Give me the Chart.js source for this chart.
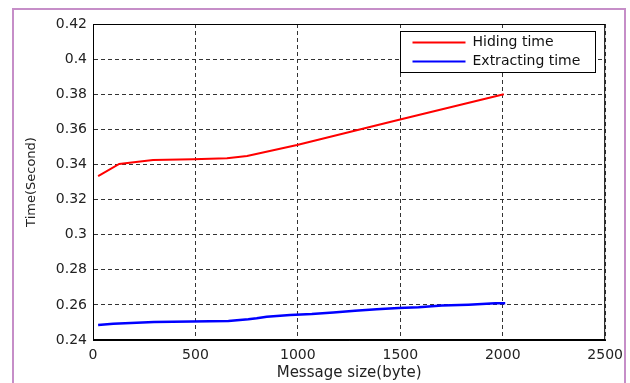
<!DOCTYPE html>
<html>
<head>
<meta charset="utf-8">
<script src="https://cdn.jsdelivr.net/npm/chart.js@4"></script>
<style>
  html, body { margin: 0; padding: 0; background: #fff; }
  #wrap { width: 630px; height: 383px; position: relative; }
</style>
</head>
<body>
<div id="wrap"><canvas id="grafico"></canvas></div>
<script>
// values
const hidingSize = [25, 128, 220, 293, 488, 654, 752, 996, 1489, 2005];
const hidingTime = [0.3334, 0.3403, 0.3416, 0.3425, 0.3429, 0.3435, 0.3448, 0.3511, 0.3653, 0.3800];

const extractSize = [25, 99, 298, 661, 758, 799, 848, 962, 1068, 1173, 1279, 1385, 1491, 1589, 1703, 1833, 1963, 2012];
const extractTime = [0.2486, 0.2493, 0.2503, 0.2508, 0.2518, 0.2524, 0.2533, 0.2543, 0.2548, 0.2556, 0.2566, 0.2575, 0.2582, 0.2586, 0.2596, 0.2601, 0.2609, 0.2609];

const seriesNames = ['Hiding time', 'Extracting time'];
const xTicks = [0, 500, 1000, 1500, 2000, 2500];
const yTicks = [0.24, 0.26, 0.28, 0.3, 0.32, 0.34, 0.36, 0.38, 0.4, 0.42];

const toPoints = (xs, ys) => xs.map((x, i) => ({ x: x, y: ys[i] }));

const fuente = 'DejaVu Sans';

// purple frame, plot box and the legend box
const marco = {
    id: 'marco',
    beforeDraw(chart) {
        const ctx = chart.ctx;
        ctx.save();
        ctx.fillStyle = '#fff';
        ctx.fillRect(0, 0, chart.width, chart.height);
        ctx.strokeStyle = '#c68ec8';
        ctx.lineWidth = 2;
        ctx.strokeRect(13, 9, 612, 400);
        ctx.restore();
    },
    afterDatasetsDraw(chart) {
        const ctx = chart.ctx;
        const a = chart.chartArea;
        ctx.save();
        ctx.strokeStyle = '#000';
        ctx.lineWidth = 1;
        ctx.strokeRect(a.left + 0.5, a.top + 0.5, a.right - a.left - 1, a.bottom - a.top - 1);

        const w = 195, h = 41;
        const bx = Math.round(a.right - 10 - w) + 0.5;
        const by = Math.round(a.top + 7) + 0.5;
        ctx.fillStyle = '#fff';
        ctx.fillRect(bx, by, w, h);
        ctx.strokeRect(bx, by, w, h);
        ctx.font = '14px "' + fuente + '"';
        ctx.textBaseline = 'middle';
        chart.data.datasets.forEach((ds, i) => {
            const yy = by + 11 + i * 19;
            ctx.strokeStyle = ds.borderColor;
            ctx.lineWidth = 2;
            ctx.beginPath();
            ctx.moveTo(bx + 12, yy);
            ctx.lineTo(bx + 65, yy);
            ctx.stroke();
            ctx.fillStyle = '#111';
            ctx.fillText(ds.label, bx + 72, yy);
        });
        ctx.restore();
    }
};

new Chart(document.getElementById('grafico'), {
    type: 'line',
    data: {
        datasets: [
            {
                label: seriesNames[0],
                data: toPoints(hidingSize, hidingTime),
                borderColor: '#ff0000',
                borderWidth: 2,
                pointRadius: 0,
                tension: 0
            },
            {
                label: seriesNames[1],
                data: toPoints(extractSize, extractTime),
                borderColor: '#0000ff',
                borderWidth: 2.5,
                pointRadius: 0,
                tension: 0
            }
        ]
    },
    options: {
        responsive: true,
        maintainAspectRatio: false,
        animation: false,
        layout: { padding: { top: 24, right: 23, left: 0, bottom: 0 } },
        plugins: {
            legend: { display: false },
            tooltip: { enabled: false }
        },
        scales: {
            x: {
                type: 'linear',
                min: xTicks[0],
                max: xTicks[xTicks.length - 1],
                afterBuildTicks: s => { s.ticks = xTicks.map(v => ({ value: v })); },
                afterFit: s => { s.height = 43; },
                ticks: {
                    color: '#222',
                    font: { family: fuente, size: 14 },
                    padding: 7,
                    maxRotation: 0,
                    callback: v => String(v)
                },
                grid: { color: '#333', lineWidth: 1, drawTicks: false },
                border: { display: true, color: '#000', width: 1, dash: [4, 3] },
                title: {
                    display: true,
                    text: 'Message size(byte)',
                    color: '#222',
                    font: { family: fuente, size: 15 },
                    padding: { top: 0, bottom: 1 }
                }
            },
            y: {
                min: yTicks[0],
                max: yTicks[yTicks.length - 1],
                afterBuildTicks: s => { s.ticks = yTicks.map(v => ({ value: v })); },
                afterFit: s => { s.width = 93; },
                ticks: {
                    color: '#222',
                    font: { family: fuente, size: 14 },
                    padding: 6,
                    callback: v => String(+v.toFixed(2))
                },
                grid: { color: '#333', lineWidth: 1, drawTicks: false },
                border: { display: true, color: '#000', width: 1, dash: [4, 3] },
                title: {
                    display: true,
                    text: 'Time(Second)',
                    color: '#222',
                    font: { family: fuente, size: 13 },
                    padding: { top: 24, bottom: 0 }
                }
            }
        }
    },
    plugins: [marco]
});
</script>
</body>
</html>
